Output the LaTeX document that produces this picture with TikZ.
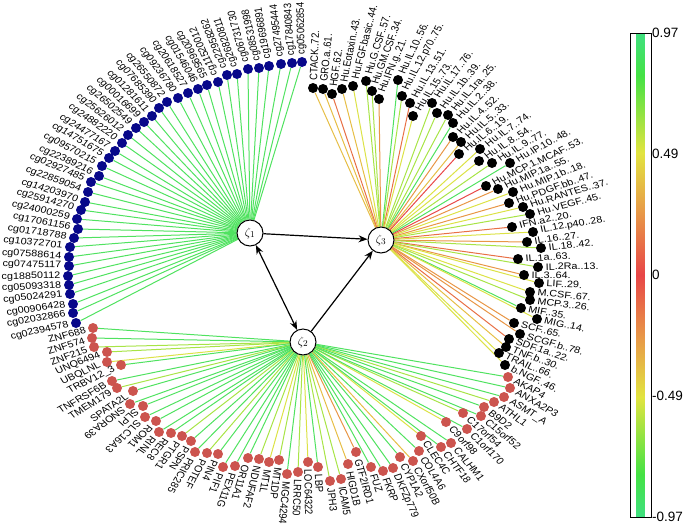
\documentclass[tikz,border=0pt]{standalone}
\usepackage{fontspec}
\setmainfont{Liberation Sans}
\usetikzlibrary{arrows.meta,backgrounds,calc}

\definecolor{lvl0}{RGB}{232,72,72}
\definecolor{lvl1}{RGB}{232,112,70}
\definecolor{lvl2}{RGB}{232,150,70}
\definecolor{lvl3}{RGB}{230,190,70}
\definecolor{lvl4}{RGB}{220,226,70}
\definecolor{lvl5}{RGB}{168,228,70}
\definecolor{lvl6}{RGB}{80,226,96}
\definecolor{cgblue}{RGB}{8,8,138}
\definecolor{genered}{RGB}{204,84,78}
\definecolor{barT}{RGB}{64,224,128}
\definecolor{barG}{RGB}{68,226,68}
\definecolor{barY}{RGB}{226,228,64}
\definecolor{barO}{RGB}{232,152,72}
\definecolor{barR}{RGB}{232,70,72}

\pgfdeclareverticalshading{corrbar}{20bp}{color(0bp)=(barT); color(25bp)=(barT);
  color(29.4bp)=(barG); color(37.4bp)=(barY); color(43.6bp)=(barO); color(50bp)=(barR);
  color(56.4bp)=(barO); color(62.6bp)=(barY); color(70.6bp)=(barG); color(75bp)=(barT);
  color(100bp)=(barT)}

\tikzset{
  hub/.style={circle, draw, line width=1pt, fill=white, minimum size=26pt, inner sep=0pt,
    font=\fontsize{13}{13}\selectfont},
  leaf/.style={circle, minimum size=10pt, inner sep=0pt},
  tie/.style={line width=1pt},
  tag/.style={inner sep=0pt, font=\fontsize{10.8}{10.8}\selectfont},
  link/.style={line width=1.2pt, -{Stealth[length=9pt,width=7pt]}},
  ticklab/.style={anchor=west, inner sep=0pt, font=\fontsize{13.5}{13.5}\selectfont},
}

% label pointing away from the middle of the ring (ring is squeezed vertically)
\newcommand\leaftag[4]{%
  \pgfmathsetmacro\tagangle{atan2(272-#3,#2-305)}%
  \pgfmathsetmacro\tagbase{atan2((272-#3)/0.87,#2-305)}%
  \pgfmathtruncatemacro\tagflip{(\tagangle>116)||(\tagangle<-145)}%
  \ifnum\tagflip=1
    \pgfmathsetmacro\tagbase{\tagbase+180}\def\taganchor{east}%
  \else
    \def\taganchor{west}%
  \fi
  \pgfmathsetmacro\tagc{cos(\tagbase)}%
  \pgfmathsetmacro\tags{sin(\tagbase)}%
  \pgfmathsetmacro\tagsq{0.87*\tags}%
  \pgfmathsetmacro\tagcq{0.87*\tagc}%
  \pgfmathsetmacro\tagns{-1*(\tags)}%
  \node[tag, anchor=\taganchor, cm={\tagc,\tagsq,\tagns,\tagcq,(0,0)}] (#1-t)
    at ($(#1)+(\tagangle:7.5pt)$) {#4};}

\begin{document}
\begin{tikzpicture}[x=1pt,y=-1pt]
  \useasboundingbox (0,0) rectangle (685,531);

  \node[hub] (z1) at (250,233) {$\zeta_1$};
  \node[hub] (z2) at (303,342) {$\zeta_2$};
  \node[hub] (z3) at (381,240) {$\zeta_3$};

  \draw[link] (z1) -- (z3);
  \draw[link, {Stealth[length=9pt,width=7pt]}-{Stealth[length=9pt,width=7pt]}] (z1) -- (z2);
  \draw[link] (z2) -- (z3);

  % methylation sites
  \foreach \x/\y/\txt [count=\i] in {302/62/cg05062854, 292/63/cg17840843, 281/64/cg27495444,
      269/66/cg19696891, 259/68/cg08531998, 248/69/cg06731730, 237/74/cg26820811,
      227/75/cg22958262, 218/82/cg11520012, 207/85/cg20969565, 198/89/cg01546046,
      188/93/cg20618527, 178/98/cg09236780, 167/102/cg26550872, 159/108/cg07685390,
      152/116/cg01281611, 144/122/cg00016699, 136/128/cg26502549, 128/135/cg25626012,
      122/143/cg24882220, 115/151/cg24477167, 109/158/cg14751675, 102/166/cg09570215,
      99/176/cg22389216, 91/182/cg02927485, 88/192/cg22859054, 85/202/cg14203970,
      81/210/cg25914270, 77/219/cg24000259, 78/229/cg17061156, 74/238/cg01718788,
      70/247/cg10372701, 69/257/cg07588614, 69/266/cg07475117, 68/276/cg18850112,
      69/285/cg05093318, 70/294/cg05024291, 73/304/cg00906428, 73/313/cg02032866,
      76/323/cg02394578}{
    \node[leaf, fill=cgblue] (m\i) at (\x,\y) {};
    \begin{pgfonlayer}{background}
      \draw[tie, lvl6] (z1) -- (m\i);
    \end{pgfonlayer}
    \leaftag{m\i}{\x}{\y}{\txt}
  }

  % genes
  \foreach \x/\y/\txt/\lv [count=\i] in {93/328/ZNF688/6, 92/338/ZNF574/6, 94/347/ZNF215/5,
      107/352/UNQ6494/5, 107/362/UBQLNL/4, 121/365/TRBV12\_3/6, 112/381/TNFRSF6B/6,
      117/388/TMEM179/5, 133/391/SPATA2L/6, 130/404/SNORA39/6, 143/406/SLPI/6,
      145/417/SLC16A3/6, 156/421/ROM1/6, 159/432/RINL/6, 171/433/REC8/6, 182/436/PTGR1/5,
      191/441/PSPN/6, 195/452/PRIC285/6, 207/453/POTEF/5, 218/454/PIN4/6, 223/467/PIF1/6,
      235/466/PEX11G/6, 248/458/OR11A1/6, 259/459/NDUFAF2/5, 269/462/MT1L/4,
      279/460/MT1DP/5, 287/474/MGC4294/6, 298/472/LRRC50/5, 308/462/LOC64322/4,
      318/467/LBP/6, 330/481/JPH3/5, 341/479/ICAM5/5, 348/464/HIGD1B/3,
      356/452/GTF2IRD1/2, 371/467/FUZ/6, 383/471/FKRP/6, 393/468/DKFZp779/6,
      400/457/CYP1A2/6, 413/461/CXorf50B/3, 419/451/COL4A6/6, 421/436/CLEC4C/4,
      441/447/CHTF18/6, 451/443/CALHM1/6, 446/422/C9orf98/4, 467/429/C1orf170/6,
      463/413/C17orf54/5, 481/416/C15orf52/6, 484/407/B9D2/6, 494/402/ATHL1/5,
      504/397/ASMT\_A/6, 510/388/ANXA2P3/6, 508/377/AKAP4/6}{
    \node[leaf, fill=genered] (g\i) at (\x,\y) {};
    \begin{pgfonlayer}{background}
      \draw[tie, lvl\lv] (z2) -- (g\i);
    \end{pgfonlayer}
    \leaftag{g\i}{\x}{\y}{\txt}
  }

  % cytokines
  \foreach \x/\y/\txt/\lv [count=\i] in {313/88/CTACK..72./3, 323/89/GRO.a..61./3,
      332/94/HGF..62./1, 342/89/Hu.Eotaxin..43./3, 353/86/Hu.FGF.basic..44./4,
      366/81/Hu.G.CSF..57./5, 372/91/Hu.GM.CSF..34./5, 379/99/Hu.IFN.g..21./2,
      398/80/Hu.IL.10..56./6, 402/96/Hu.IL.12.p70..75./5, 410/103/Hu.IL.13..51./1,
      413/116/Hu.IL.15..73./4, 432/103/Hu.IL.17..76./5, 437/113/Hu.IL.1b..39./5,
      448/115/Hu.IL.1ra..25./5, 453/123/Hu.IL.2..38./6, 453/137/Hu.IL.4..52./2,
      461/142/Hu.IL.5..33./3, 459/154/Hu.IL.6..19./0, 480/149/Hu.IL.7..74./4,
      479/161/Hu.IL.8..54./4, 492/163/Hu.IL.9..77./5, 510/163/Hu.IP.10..48./6,
      486/186/Hu.MCP.1.MCAF..53./0, 498/189/Hu.MIP.1a..55./2, 513/192/Hu.MIP.1b..18./4,
      509/203/Hu.PDGF.bb..47./2, 523/207/Hu.RANTES..37./4, 530/214/Hu.VEGF..45./5,
      512/227/IFN.a2..20./1, 533/232/IL.12.p40..28./4, 527/242/IL.16..27./2,
      541/248/IL.18..42./5, 518/259/IL.1a..63./1, 538/267/IL.2Ra..13./5,
      524/275/IL.3..64./2, 539/283/LIF..29./4, 530/292/M.CSF..67./4,
      530/300/MCP.3..26./5, 521/308/MIF..35./6, 537/319/MIG..14./4, 514/323/SCF..65./2,
      520/334/SCGF.b..78./2, 509/339/SDF.1a..22./1, 506/347/TNF.b..30./3,
      499/353/TRAIL..66./4, 505/365/b.NGF..46./4}{
    \node[leaf, fill=black] (c\i) at (\x,\y) {};
    \begin{pgfonlayer}{background}
      \draw[tie, lvl\lv] (z3) -- (c\i);
    \end{pgfonlayer}
    \leaftag{c\i}{\x}{\y}{\txt}
  }

  % colour key
  \shade[shading=corrbar, draw=black, line width=1pt] (630,33) rectangle (651,517);
  \node[ticklab] (k1) at (652,33) {0.97};
  \node[ticklab] (k2) at (652,154) {0.49};
  \node[ticklab] (k3) at (652,275) {0};
  \node[ticklab] (k4) at (652,396) {-0.49};
  \node[ticklab] (k5) at (652,517) {-0.97};
\end{tikzpicture}
\end{document}
